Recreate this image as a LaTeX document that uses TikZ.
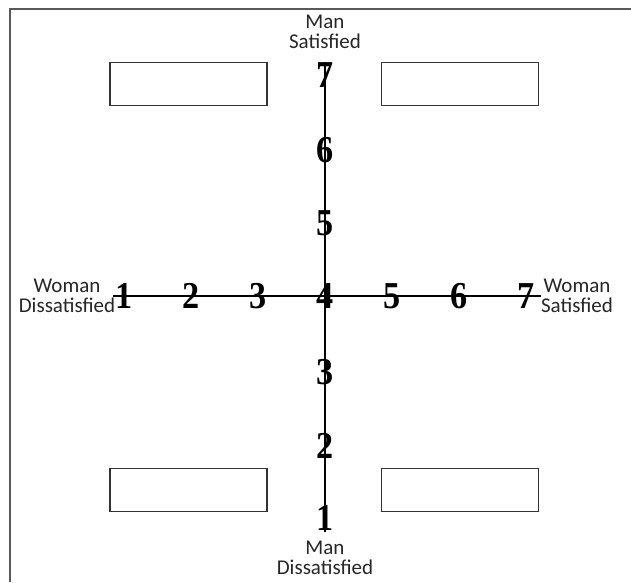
\documentclass[tikz,border=0pt]{standalone}
\usepackage{fontspec}
\setmainfont{Carlito}
\newfontfamily\numfont{Liberation Serif}[FakeStretch=0.9]
\tikzset{
  frame/.style={draw=black!65, line width=2pt},
  quadbox/.style={draw=black!80, line width=1.3pt, fill=white, minimum width=157pt, minimum height=43pt, inner sep=0pt},
  axis/.style={draw=black, line width=2pt},
  num/.style={font=\numfont\bfseries\fontsize{38}{38}\selectfont, inner sep=0pt},
  lab/.style={font=\fontsize{21}{20}\selectfont, align=center, inner sep=0pt, text=black!85}
}
\begin{document}
\begin{tikzpicture}[x=1pt,y=-1pt]
\useasboundingbox (0,0) rectangle (631,582);
\coordinate (f1) at (10,582);
\coordinate (f2) at (10,8.5);
\coordinate (f3) at (631,8.5);
\draw[frame] (f1) -- (f2) -- (f3);
\node[quadbox] (b1) at (188.5,84) {};
\node[quadbox] (b2) at (460,84) {};
\node[quadbox] (b3) at (188.5,490) {};
\node[quadbox] (b4) at (460,490) {};
\coordinate (vt) at (325,62);
\coordinate (vb) at (325,532);
\coordinate (hl) at (113,296);
\coordinate (hr) at (541,296);
\draw[axis] (vt) -- (vb);
\draw[axis] (hl) -- (hr);
\node[num] (h1) at (124,296) {1};
\node[num] (h2) at (191,296) {2};
\node[num] (h3) at (258,296) {3};
\node[num] (h4) at (325,296) {4};
\node[num] (h5) at (392,296) {5};
\node[num] (h6) at (459,296) {6};
\node[num] (h7) at (526,296) {7};
\node[num] (v7) at (325,75) {7};
\node[num] (v6) at (325,150) {6};
\node[num] (v5) at (325,223) {5};
\node[num] (v3) at (325,372) {3};
\node[num] (v2) at (325,446) {2};
\node[num] (v1) at (325,518) {1};
\node[lab] (ms) at (325,32) {Man\\Satisfied};
\node[lab] (md) at (325,558) {Man\\Dissatisfied};
\node[lab] (wd) at (67,296) {Woman\\Dissatisfied};
\node[lab] (ws) at (577,296) {Woman\\Satisfied};
\end{tikzpicture}
\end{document}
